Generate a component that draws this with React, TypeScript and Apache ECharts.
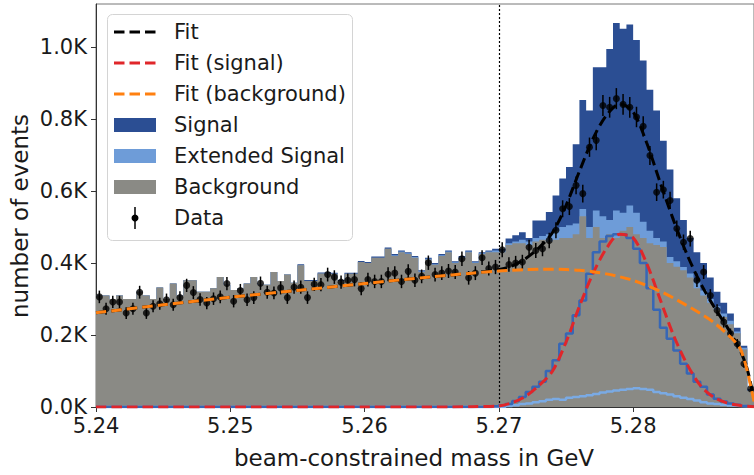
import React, { useEffect, useRef } from "react";
import * as echarts from "echarts";

// Histogram binning (bin edges start at 5.240 GeV, width 0.5 MeV)
const BIN_START = 5.24;
const BIN_WIDTH = 0.0005;

// Stacked histogram layer heights (in thousands of events), one per bin
const backgroundCounts = [
  0.31, 0.31, 0.30, 0.31, 0.30, 0.30, 0.32, 0.31, 0.30, 0.332,
  0.30, 0.343, 0.31, 0.352, 0.352, 0.32, 0.32, 0.33, 0.361, 0.34,
  0.325, 0.33, 0.343, 0.361, 0.34, 0.34, 0.375, 0.35, 0.368, 0.345,
  0.394, 0.35, 0.35, 0.371, 0.372, 0.37, 0.35, 0.37, 0.37, 0.403,
  0.40, 0.415, 0.415, 0.44, 0.42, 0.43, 0.425, 0.415, 0.375, 0.41,
  0.395, 0.42, 0.43, 0.40, 0.415, 0.43, 0.40, 0.425, 0.43, 0.43,
  0.43, 0.45, 0.455, 0.455, 0.45, 0.46, 0.465, 0.46, 0.465, 0.47,
  0.47, 0.48, 0.53, 0.47, 0.50, 0.47, 0.48, 0.47, 0.49, 0.50,
  0.48, 0.47, 0.455, 0.45, 0.445, 0.40, 0.39, 0.38, 0.36, 0.33,
  0.31, 0.29, 0.27, 0.25, 0.23, 0.205, 0.16, 0.045,
];
const extendedCounts = [
  0, 0, 0, 0, 0, 0, 0, 0, 0, 0,
  0, 0, 0, 0, 0, 0, 0, 0, 0, 0,
  0, 0, 0, 0, 0, 0, 0, 0, 0, 0,
  0, 0, 0, 0, 0, 0, 0, 0, 0, 0,
  0, 0, 0, 0, 0.002, 0.002, 0.002, 0.002, 0.002, 0.002,
  0.002, 0.002, 0.002, 0.002, 0.002, 0.002, 0.002, 0.002, 0.002, 0.005,
  0.005, 0.005, 0.005, 0.01, 0.01, 0.01, 0.01, 0.02, 0.025, 0.03,
  0.035, 0.03, 0.02, 0.03, 0.046, 0.06, 0.04, 0.076, 0.05, 0.06,
  0.06, 0.045, 0.035, 0.02, 0.015, 0.017, 0.015, 0.009, 0.011, 0.017,
  0.014, 0.01, 0.01, 0.01, 0.01, 0.005, 0.005, 0,
];
const signalCounts = [
  0, 0, 0, 0, 0, 0, 0, 0, 0, 0,
  0, 0, 0, 0, 0, 0, 0, 0, 0, 0,
  0, 0, 0, 0, 0, 0, 0, 0, 0, 0,
  0.003, 0.003, 0.003, 0.003, 0.003, 0.003, 0.003, 0.003, 0.003, 0.003,
  0.003, 0.003, 0.003, 0.003, 0.003, 0.003, 0.003, 0.003, 0.003, 0.003,
  0.003, 0.003, 0.003, 0.003, 0.003, 0.003, 0.003, 0.003, 0.003, 0.005,
  0.005, 0.013, 0.017, 0.021, 0.01, 0.048, 0.043, 0.062, 0.098, 0.135,
  0.162, 0.22, 0.303, 0.324, 0.398, 0.414, 0.475, 0.521, 0.511, 0.503,
  0.48, 0.448, 0.392, 0.354, 0.28, 0.243, 0.175, 0.131, 0.099, 0.083,
  0.076, 0.06, 0.04, 0.03, 0.02, 0.01, 0.005, 0.005,
];

// Component outlines (unstacked step lines)
const signalComponent = [
  0, 0, 0, 0, 0, 0, 0, 0, 0, 0,
  0, 0, 0, 0, 0, 0, 0, 0, 0, 0,
  0, 0, 0, 0, 0, 0, 0, 0, 0, 0,
  0, 0, 0, 0, 0, 0, 0, 0, 0, 0,
  0, 0, 0, 0, 0, 0, 0, 0, 0, 0,
  0, 0, 0, 0, 0, 0, 0, 0, 0, 0.002,
  0.005, 0.008, 0.017, 0.028, 0.042, 0.056, 0.07, 0.10, 0.13, 0.176,
  0.204, 0.255, 0.296, 0.37, 0.43, 0.46, 0.475, 0.48, 0.48, 0.47,
  0.44, 0.40, 0.33, 0.27, 0.22, 0.19, 0.157, 0.12, 0.093, 0.07,
  0.056, 0.035, 0.023, 0.015, 0.01, 0.006, 0.003, 0.002,
];
const extendedComponent = [
  0, 0, 0, 0, 0, 0, 0, 0, 0, 0,
  0, 0, 0, 0, 0, 0, 0, 0, 0, 0,
  0, 0, 0, 0, 0, 0, 0, 0, 0, 0,
  0, 0, 0, 0, 0, 0, 0, 0, 0, 0,
  0, 0, 0, 0, 0, 0, 0, 0, 0, 0,
  0, 0, 0, 0, 0, 0, 0, 0, 0, 0,
  0, 0.003, 0.005, 0.008, 0.01, 0.013, 0.016, 0.02, 0.022, 0.02,
  0.026, 0.028, 0.03, 0.033, 0.036, 0.04, 0.043, 0.046, 0.048, 0.05,
  0.052, 0.05, 0.048, 0.042, 0.038, 0.035, 0.03, 0.026, 0.022, 0.018,
  0.013, 0.01, 0.008, 0.006, 0.004, 0.003, 0.002, 0.001,
];

// Measured data (thousands of events per bin)
const dataCounts = [
  0.306, 0.273, 0.292, 0.292, 0.261, 0.273, 0.319, 0.261, 0.280, 0.287,
  0.298, 0.284, 0.304, 0.338, 0.318, 0.299, 0.289, 0.301, 0.306, 0.343,
  0.294, 0.324, 0.298, 0.304, 0.344, 0.319, 0.317, 0.331, 0.304, 0.333,
  0.333, 0.304, 0.341, 0.340, 0.368, 0.361, 0.347, 0.352, 0.354, 0.329,
  0.354, 0.349, 0.349, 0.369, 0.372, 0.349, 0.377, 0.352, 0.363, 0.401,
  0.368, 0.372, 0.378, 0.375, 0.412, 0.359, 0.372, 0.415, 0.385, 0.389,
  0.437, 0.396, 0.40, 0.403, 0.444, 0.435, 0.44, 0.463, 0.491, 0.551,
  0.557, 0.616, 0.593, 0.722, 0.741, 0.838, 0.833, 0.857, 0.841, 0.833,
  0.806, 0.78, 0.699, 0.597, 0.604, 0.574, 0.496, 0.458, 0.468, 0.352,
  0.375, 0.31, 0.269, 0.236, 0.204, 0.176, 0.12, 0.051,
];

// Fit curves sampled along x
const fitX = [5.24, 5.245, 5.25, 5.255, 5.26, 5.265, 5.268, 5.27, 5.271, 5.272, 5.273, 5.274, 5.275, 5.276, 5.277, 5.278, 5.279, 5.28, 5.281, 5.282, 5.283, 5.284, 5.285, 5.286, 5.287, 5.2875, 5.288, 5.2885, 5.289];
const fitTotal = [0.262, 0.284, 0.305, 0.324, 0.343, 0.362, 0.372, 0.382, 0.392, 0.413, 0.443, 0.485, 0.56, 0.655, 0.745, 0.81, 0.842, 0.82, 0.735, 0.625, 0.52, 0.425, 0.345, 0.28, 0.222, 0.19, 0.155, 0.105, 0.02];
const fitSignal = [0, 0, 0, 0, 0, 0, 0.001, 0.003, 0.012, 0.03, 0.06, 0.10, 0.18, 0.28, 0.37, 0.44, 0.48, 0.47, 0.40, 0.30, 0.2, 0.12, 0.06, 0.027, 0.011, 0.007, 0.004, 0.002, 0.001];
const fitBackground = [0.262, 0.284, 0.305, 0.324, 0.343, 0.362, 0.372, 0.378, 0.380, 0.382, 0.383, 0.383, 0.382, 0.380, 0.376, 0.370, 0.362, 0.352, 0.338, 0.322, 0.303, 0.282, 0.26, 0.235, 0.203, 0.185, 0.16, 0.10, 0.015];

const CUT_X = 5.27;
const legendItems = ["Fit", "Fit (signal)", "Fit (background)", "Signal", "Extended Signal", "Background", "Data"];

const C_SIGNAL = "#2b4e93";
const C_EXT = "#6e9cd8";
const C_BG = "#8a8a85";
const C_SIG_LINE = "#3767b6";
const C_EXT_LINE = "#7aaae4";
const C_RED = "#e0262a";
const C_ORANGE = "#ff8010";
const FONT = "DejaVu Sans";

export default function App() {
  const ref = useRef<HTMLDivElement>(null);
  useEffect(() => {
    const chart = echarts.init(ref.current!, undefined, { renderer: "svg" });
    const n = backgroundCounts.length;
    const edges = Array.from({ length: n + 1 }, (_, i) => BIN_START + i * BIN_WIDTH);
    const centers = Array.from({ length: n }, (_, i) => BIN_START + (i + 0.5) * BIN_WIDTH);
    const grayTop = backgroundCounts;
    const lightTop = grayTop.map((v, i) => v + extendedCounts[i]);
    const darkTop = lightTop.map((v, i) => v + signalCounts[i]);
    const steps = (vals: number[]) => {
      const pts: number[][] = [];
      vals.forEach((v, i) => {
        pts.push([edges[i], v]);
        pts.push([edges[i + 1], v]);
      });
      return pts;
    };
    const histArea = (tops: number[], color: string, z: number) => ({
      type: "line",
      z,
      data: steps(tops),
      showSymbol: false,
      lineStyle: { width: 0, color },
      areaStyle: { color, opacity: 1, origin: "start" },
      silent: true,
    });
    const errData = dataCounts.map((v, i) => {
      const e = Math.sqrt(v * 1000) / 1000;
      return [centers[i], v - e, v + e];
    });
    const fitLine = (vals: number[], color: string, z: number) => ({
      type: "line",
      z,
      data: fitX.map((x, i) => [x, vals[i]]),
      showSymbol: false,
      smooth: 0.3,
      lineStyle: { color, width: 3, type: [10.5, 5] },
      silent: true,
    });
    const isTick = (v: number, step: number) => Math.abs(v / step - Math.round(v / step)) < 1e-6;

    const legendY = [32, 63, 94, 125, 156, 187, 218];
    const graphic: any[] = [
      {
        type: "rect", z: 100,
        shape: { x: 107.5, y: 14.5, width: 245, height: 226, r: 5 },
        style: { fill: "rgba(255,255,255,0.8)", stroke: "#d4d4d4", lineWidth: 1 },
      },
    ];
    const lineColors = ["#000", C_RED, C_ORANGE];
    lineColors.forEach((c, k) => {
      graphic.push({
        type: "line", z: 101,
        shape: { x1: 114, y1: legendY[k], x2: 156, y2: legendY[k] },
        style: { stroke: c, lineWidth: 3, lineDash: [10.5, 5] },
      });
    });
    [C_SIGNAL, C_EXT, C_BG].forEach((c, k) => {
      graphic.push({
        type: "rect", z: 101,
        shape: { x: 114, y: legendY[k + 3] - 7, width: 42, height: 14 },
        style: { fill: c },
      });
    });
    graphic.push({
      type: "line", z: 101,
      shape: { x1: 135, y1: legendY[6] - 11, x2: 135, y2: legendY[6] + 11 },
      style: { stroke: "#000", lineWidth: 1.5 },
    });
    graphic.push({
      type: "circle", z: 102,
      shape: { cx: 135, cy: legendY[6], r: 3.5 },
      style: { fill: "#000" },
    });
    legendItems.forEach((t, k) => {
      graphic.push({
        type: "text", z: 102, x: 174, y: legendY[k],
        style: { text: t, fontFamily: FONT, fontSize: 21, fill: "#1a1a1a", align: "left", verticalAlign: "middle" },
      });
    });
    graphic.push({
      type: "text", z: 102, x: 414, y: 458,
      style: { text: "beam-constrained mass in GeV", fontFamily: FONT, fontSize: 23, fill: "#1a1a1a", align: "center", verticalAlign: "middle" },
    });
    graphic.push({
      type: "text", z: 102, x: 20, y: 216, rotation: Math.PI / 2,
      style: { text: "number of events", fontFamily: FONT, fontSize: 23, fill: "#1a1a1a", align: "center", verticalAlign: "middle" },
    });

    chart.setOption({
      animation: false,
      backgroundColor: "#fff",
      grid: { left: 96, top: 4, width: 659.5, height: 403, show: true, borderColor: "#777", borderWidth: 1 },
      xAxis: {
        type: "value", min: 5.24, max: 5.289, interval: 0.01,
        axisLine: { show: true, lineStyle: { color: "#333", width: 1 } },
        axisTick: { show: true, length: 5, lineStyle: { color: "#333" } },
        splitLine: { show: false },
        axisLabel: {
          fontFamily: FONT, fontSize: 21, color: "#1a1a1a", margin: 8, showMaxLabel: false,
          formatter: (v: number) => (isTick(v, 0.01) ? v.toFixed(2) : ""),
        },
      },
      yAxis: {
        type: "value", min: 0, max: 1.12, interval: 0.2,
        axisLine: { show: true, lineStyle: { color: "#333", width: 1 } },
        axisTick: { show: true, length: 5, lineStyle: { color: "#333" } },
        splitLine: { show: false },
        axisLabel: {
          fontFamily: FONT, fontSize: 21, color: "#1a1a1a", margin: 9, showMaxLabel: false,
          formatter: (v: number) => (isTick(v, 0.2) ? v.toFixed(1) + "K" : ""),
        },
      },
      series: [
        histArea(darkTop, C_SIGNAL, 1),
        histArea(lightTop, C_EXT, 2),
        histArea(grayTop, C_BG, 3),
        {
          type: "line", z: 4, data: steps(extendedComponent), showSymbol: false,
          lineStyle: { color: C_EXT_LINE, width: 2.5 }, silent: true,
        },
        {
          type: "line", z: 5, data: steps(signalComponent), showSymbol: false,
          lineStyle: { color: C_SIG_LINE, width: 2.5 }, silent: true,
          markLine: {
            silent: true, symbol: "none", label: { show: false },
            lineStyle: { color: "#000", type: [2, 2], width: 1.2 },
            data: [{ xAxis: CUT_X }],
          },
        },
        {
          type: "custom", z: 6, silent: true,
          encode: { x: 0, y: [1, 2] },
          data: errData,
          renderItem: (params: any, api: any) => {
            const lo = api.coord([api.value(0), api.value(1)]);
            const hi = api.coord([api.value(0), api.value(2)]);
            return { type: "line", shape: { x1: lo[0], y1: lo[1], x2: hi[0], y2: hi[1] }, style: { stroke: "#000", lineWidth: 1.5 } };
          },
        },
        {
          type: "scatter", z: 7, silent: true, symbolSize: 7,
          itemStyle: { color: "#000" },
          data: dataCounts.map((v, i) => [centers[i], v]),
        },
        fitLine(fitTotal, "#000", 8),
        fitLine(fitSignal, C_RED, 9),
        fitLine(fitBackground, C_ORANGE, 10),
      ],
      graphic,
    });
    return () => chart.dispose();
  }, []);
  return (
    <div
      ref={ref}
      style={{ position: "fixed", left: 0, top: 0, width: 754, height: 475, background: "#fff" }}
    />
  );
}
